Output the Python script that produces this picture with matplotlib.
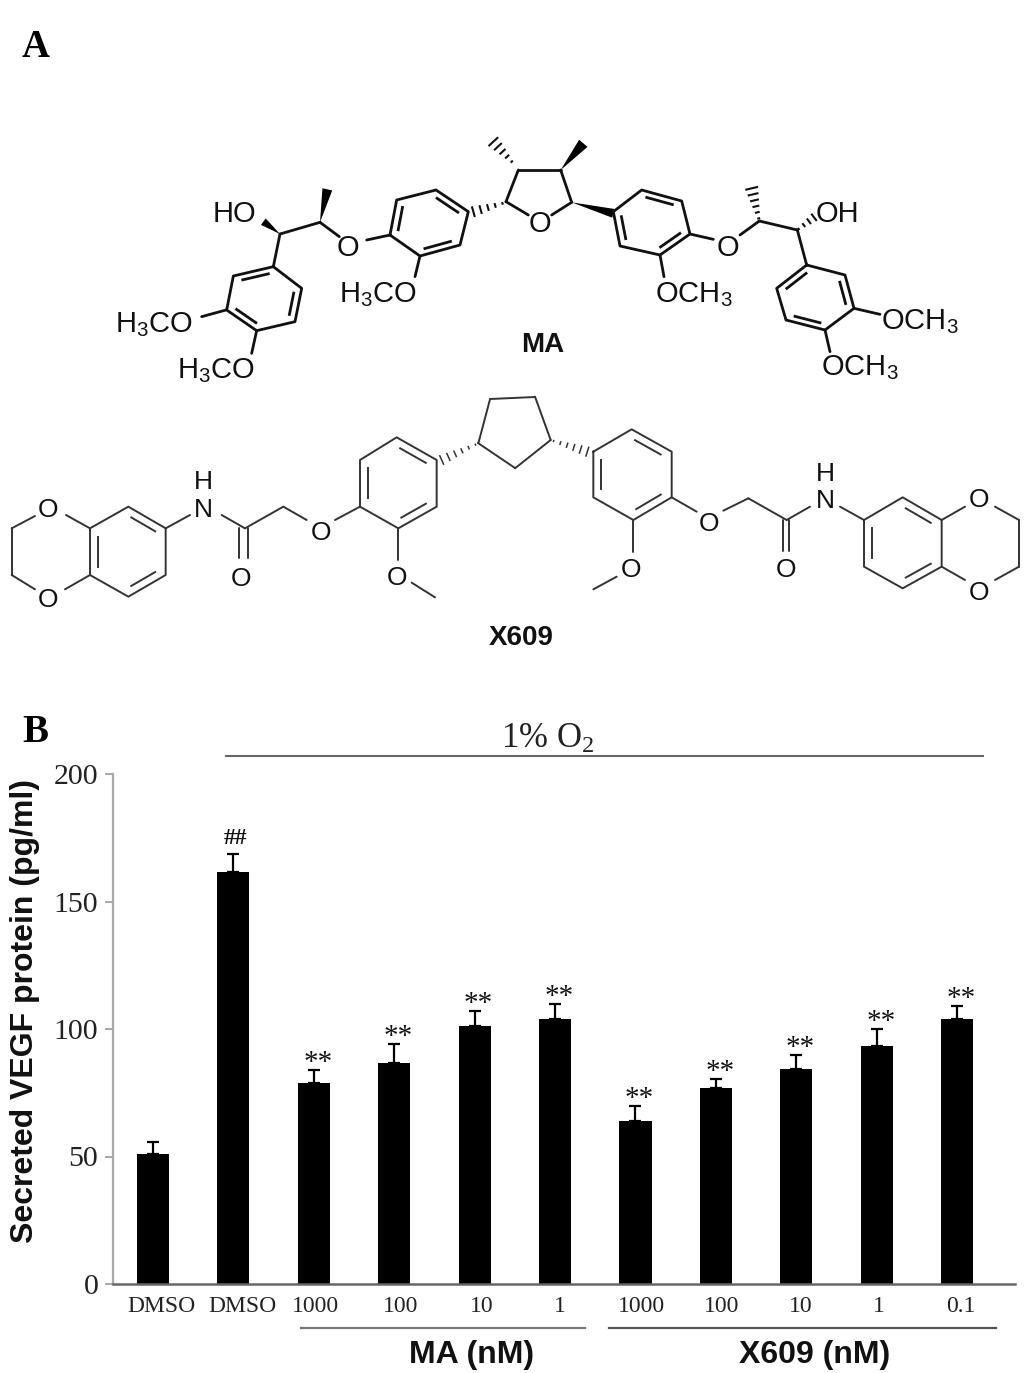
import numpy as np
from matplotlib import pyplot as plt
from matplotlib.patches import Polygon

plt.rcParams['mathtext.default'] = 'regular'
SANS = 'Liberation Sans'
SERIF = 'Liberation Serif'

# chart values
groups = ['DMSO', 'DMSO', '1000', '100', '10', '1', '1000', '100', '10', '1', '0.1']
vegf = [51, 161.5, 79, 86.5, 101, 104, 64, 77, 84.5, 93.5, 104]
err = [4.5, 7, 5, 7.5, 6, 6, 6, 3.5, 5.5, 6.5, 5]
marks = ['', '##', '**', '**', '**', '**', '**', '**', '**', '**', '**']
yticks = [0, 50, 100, 150, 200]
label_shift = [0.11, 0.11, 0.02, 0.08, 0.09, 0.06, 0.07, 0.07, 0.06, 0.03, 0.05]

fig = plt.figure(figsize=(10.33, 13.73), dpi=100)

# overlay in pixels, for the drawn structures and the labels
ov = fig.add_axes([0, 0, 1, 1])
ov.set_xlim(0, 1033)
ov.set_ylim(1373, 0)
ov.axis('off')


def z(pts, x0, y0):
    return [(x0 + p[0] / 3, y0 + p[1] / 3) for p in pts]


def bonds(pts, lw, col):
    # each pair of points is one bond
    for i in range(0, len(pts), 2):
        ov.plot([pts[i][0], pts[i + 1][0]], [pts[i][1], pts[i + 1][1]], color=col, lw=lw,
                solid_capstyle='round')


def ring(pts, dbl, lw, col):
    pts = np.array(pts)
    c = pts.mean(axis=0)
    closed = np.vstack([pts, pts[0]])
    ov.plot(closed[:, 0], closed[:, 1], color=col, lw=lw, solid_joinstyle='round')
    for i in dbl:
        a = pts[i]
        b = pts[(i + 1) % len(pts)]
        a2 = a + (c - a) * 0.2
        b2 = b + (c - b) * 0.2
        a3 = a2 + (b2 - a2) * 0.1
        b3 = b2 - (b2 - a2) * 0.1
        ov.plot([a3[0], b3[0]], [a3[1], b3[1]], color=col, lw=lw)


def wedge(a, b, w=5.0):
    a = np.array(a, dtype=float)
    b = np.array(b, dtype=float)
    d = b - a
    n = np.array([-d[1], d[0]]) / np.hypot(*d)
    ov.add_patch(Polygon([a, b + n * w, b - n * w], closed=True, color='black', lw=0))


def hashed(a, b, col, w=5.0, n_st=6, lw=1.3):
    a = np.array(a, dtype=float)
    b = np.array(b, dtype=float)
    d = b - a
    n = np.array([-d[1], d[0]]) / np.hypot(*d)
    for t in np.linspace(0.08, 1, n_st):
        p = a + d * t
        ov.plot([p[0] - n[0] * w * t, p[0] + n[0] * w * t],
                [p[1] - n[1] * w * t, p[1] + n[1] * w * t], color=col, lw=lw)


def atom(x, y, s, size=21):
    ov.text(x, y, s, family=SANS, fontsize=size, ha='center', va='center', color='#111111')


def chem(x, y, s, size=21):
    ov.text(x, y, s, family=SANS, fontsize=size, ha='left', va='baseline', color='#111111')


# MA
ma = '#111111'
ring(z([(520, 440), (605, 505), (585, 605), (470, 632), (380, 570), (400, 468)], 100, 120), [1, 3, 5], 2.0, ma)
ring(z([(870, 345), (890, 240), (1008, 210), (1105, 275), (1080, 375), (960, 408)], 100, 120), [0, 2, 4], 2.0, ma)
bonds(z([(520, 440), (540, 342), (540, 342), (660, 307), (660, 307), (718, 350), (800, 360), (870, 345),
         (960, 408), (945, 470), (378, 570), (305, 590), (470, 632), (455, 700),
         (1218, 245), (1255, 150), (1218, 245), (1285, 285), (1255, 150), (1383, 150)], 100, 120), 2.0, ma)
wedge(z([(540, 342)], 100, 120)[0], z([(490, 305)], 100, 120)[0], 4)
wedge(z([(660, 307)], 100, 120)[0], z([(682, 208)], 100, 120)[0], 5)
hashed(z([(1215, 248)], 100, 120)[0], z([(1120, 275)], 100, 120)[0], ma, 4.5, 5, 1.5)
hashed(z([(1240, 130)], 100, 120)[0], z([(1180, 65)], 100, 120)[0], ma, 5.5, 5, 1.5)
atom(348, 248, 'O')
chem(213, 222, 'HO')
chem(115, 332, 'H$_3$CO')
chem(177, 378, 'H$_3$CO')
chem(339, 302, 'H$_3$CO')

ring(z([(340, 275), (425, 210), (545, 243), (570, 342), (480, 405), (360, 378)], 500, 120), [1, 3, 5], 2.0, ma)
ring(z([(920, 435), (1035, 465), (1062, 565), (975, 630), (858, 600), (830, 505)], 500, 120), [1, 3, 5], 2.0, ma)
bonds(z([(182, 150), (215, 247), (215, 247), (155, 285), (570, 342), (640, 358), (480, 405), (492, 470),
         (720, 345), (778, 303), (778, 303), (892, 330), (892, 330), (920, 435),
         (1062, 565), (1140, 583), (975, 630), (990, 695)], 500, 120), 2.0, ma)
wedge(z([(215, 247)], 500, 120)[0], z([(340, 280)], 500, 120)[0], 4.5)
wedge(z([(182, 150)], 500, 120)[0], z([(250, 70)], 500, 120)[0], 5.5)
hashed(z([(778, 303)], 500, 120)[0], z([(755, 205)], 500, 120)[0], ma, 5.5, 6, 1.5)
hashed(z([(892, 330)], 500, 120)[0], z([(942, 292)], 500, 120)[0], ma, 3.5, 4, 1.5)
atom(540, 224, 'O')
atom(728, 248, 'O')
chem(655, 302, 'OCH$_3$')
chem(881, 329, 'OCH$_3$')
chem(821, 375, 'OCH$_3$')
chem(816, 222, 'OH')

# X609
xc = '#333333'
ring(z([(270, 445), (385, 380), (497, 445), (497, 585), (385, 650), (270, 585)], 0, 380), [1, 3, 5], 1.4, xc)
ring(z([(1080, 380), (1080, 240), (1190, 172), (1310, 240), (1310, 380), (1195, 445)], 0, 380), [0, 2, 4], 1.4, xc)
bonds(z([(270, 445), (198, 405), (105, 408), (35, 445), (35, 445), (35, 585), (35, 585), (105, 628),
         (195, 628), (270, 585), (497, 445), (570, 405), (665, 405), (735, 445), (735, 445), (850, 380),
         (850, 380), (920, 420), (718, 445), (718, 535), (745, 445), (745, 535), (1005, 420), (1080, 380),
         (1195, 445), (1195, 540), (1235, 608), (1305, 652), (1435, 190), (1470, 58)], 0, 380), 1.4, xc)
hashed(z([(1435, 190)], 0, 380)[0], z([(1325, 240)], 0, 380)[0], xc, 4.5, 6, 1.1)
ring(z([(250, 215), (365, 148), (485, 215), (485, 352), (370, 420), (250, 352)], 510, 380), [5, 1, 3], 1.4, xc)
ring(z([(1062, 420), (1178, 352), (1295, 420), (1295, 560), (1178, 625), (1062, 560)], 510, 380), [5, 1, 3], 1.4, xc)
bonds(z([(370, 420), (370, 515), (320, 590), (250, 628), (485, 352), (560, 395), (640, 392), (715, 355),
         (715, 355), (830, 420), (830, 420), (900, 380), (820, 420), (820, 512), (838, 420), (838, 512),
         (990, 380), (1062, 420), (1295, 420), (1365, 380), (1455, 380), (1527, 420), (1527, 420), (1527, 560),
         (1527, 560), (1455, 600), (1365, 600), (1295, 560),
         (122, 180), (75, 50), (122, 180), (15, 265)], 510, 380), 1.4, xc)
bonds([(490, 399), (535, 397), (478, 443), (515, 468)], 1.4, xc)
hashed(z([(122, 180)], 510, 380)[0], z([(232, 215)], 510, 380)[0], xc, 4.5, 6, 1.1)
for px, py, s in [(48, 510, 'O'), (48, 600, 'O'), (203, 510, 'N'), (203, 482, 'H'), (321, 533, 'O'), (241, 579, 'O'),
                  (397, 578, 'O'), (631, 570, 'O'), (709, 524, 'O'), (786, 570, 'O'), (825, 501, 'N'), (825, 474, 'H'),
                  (979, 500, 'O'), (979, 593, 'O')]:
    atom(px, py, s, 19)

# panel text
ov.text(22, 57, 'A', family=SERIF, fontweight='bold', fontsize=28, ha='left', va='baseline', color='black')
ov.text(22, 742, 'B', family=SERIF, fontweight='bold', fontsize=28, ha='left', va='baseline', color='black')
ov.text(543, 345, 'MA', family=SANS, fontweight='bold', fontsize=20, ha='center', va='center', color='#111111')
ov.text(521, 638, 'X609', family=SANS, fontweight='bold', fontsize=20, ha='center', va='center', color='#111111')
ov.text(548, 739, '1% O$_2$', family=SERIF, fontsize=25, ha='center', va='center', color='#222222')
ov.plot([226, 983], [756, 756], color='#666666', lw=1.5)
ov.plot([301, 585], [1328, 1328], color='#777777', lw=1.6)
ov.plot([609, 996], [1328, 1328], color='#555555', lw=1.6)
ov.text(472, 1355, 'MA (nM)', family=SANS, fontweight='bold', fontsize=23, ha='center', va='center', color='#111111')
ov.text(815, 1355, 'X609 (nM)', family=SANS, fontweight='bold', fontsize=23, ha='center', va='center', color='#111111')
ov.text(25, 1011, 'Secreted VEGF protein (pg/ml)', family=SANS, fontweight='bold', fontsize=23, rotation=90,
        ha='center', va='center', color='#111111')

# bar chart, x in bar positions
ax = fig.add_axes([113 / 1033, 1 - 1284 / 1373, (1015 - 113) / 1033, (1284 - 774) / 1373])
ax.patch.set_alpha(0)
x = np.arange(len(groups))
ax.bar(x, vegf, width=0.4, color='black')
ax.errorbar(x, vegf, yerr=[np.zeros(len(err)), err], fmt='none', ecolor='black', elinewidth=1.6, capsize=4.5, capthick=1.6)
for i in range(len(marks)):
    if marks[i] == '**':
        ax.text(x[i] + 0.05, vegf[i] + err[i] - 2.4, marks[i], family=SERIF, fontsize=21,
                ha='center', va='bottom', color='#111111')
    else:
        ax.text(x[i] + 0.02, vegf[i] + err[i] + 2, marks[i], family=SERIF, fontsize=17,
                ha='center', va='bottom', color='#111111', fontweight='bold')
ax.set_xlim(-0.4975, 10.72)
ax.set_ylim(0, 200)
ax.set_yticks(yticks)
ax.set_xticks(x + np.array(label_shift))
ax.set_xticklabels(groups, family=SERIF, fontsize=17, color='#222222')
ax.tick_params(axis='x', length=0, pad=9)
ax.tick_params(axis='y', length=6, width=1.2, color='#999999', pad=4.5, labelsize=21.5, labelcolor='#222222')
for lab in ax.get_yticklabels():
    lab.set_family(SERIF)
ax.spines['top'].set_visible(False)
ax.spines['right'].set_visible(False)
ax.spines['left'].set_color('#a8a8a8')
ax.spines['left'].set_linewidth(1.6)
ax.spines['bottom'].set_color('#666666')
ax.spines['bottom'].set_linewidth(1.8)

fig.savefig('out.png', dpi=100)
